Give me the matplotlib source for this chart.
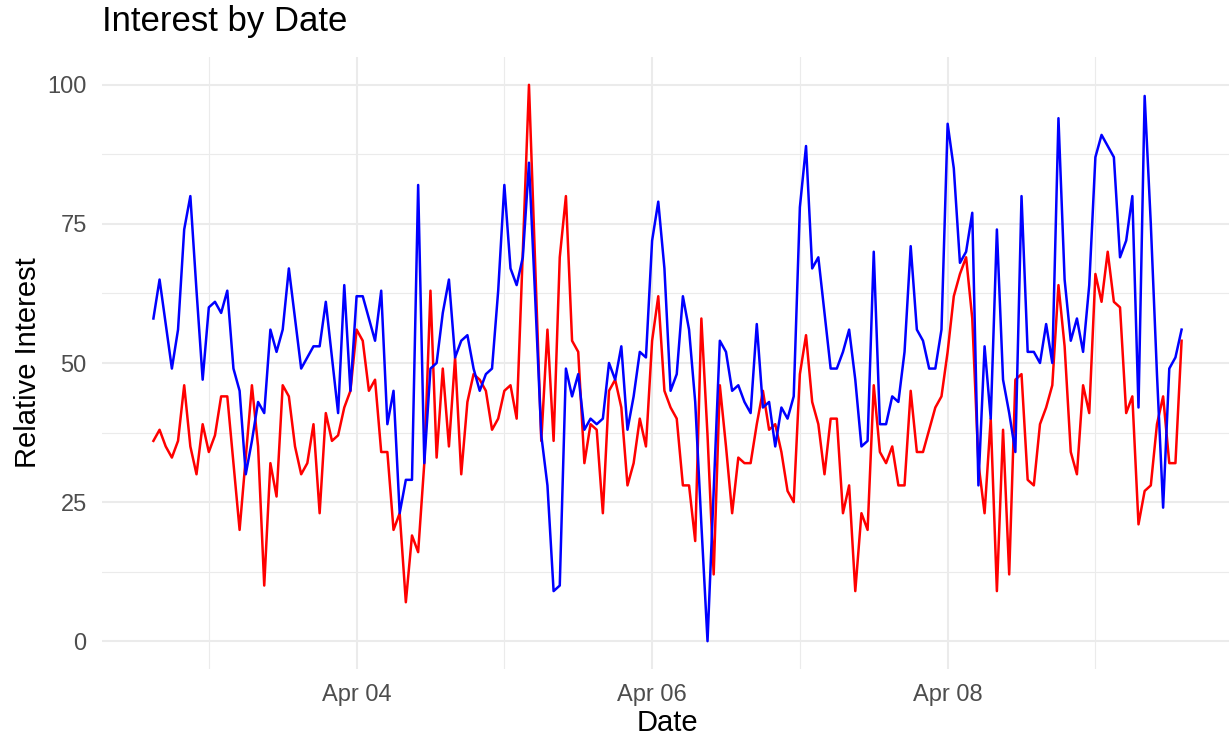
import matplotlib
matplotlib.use("Agg")
import matplotlib.pyplot as plt
import matplotlib.dates as mdates
import numpy as np
import pandas as pd

plt.rcParams['font.family'] = ['Liberation Sans', 'DejaVu Sans']

#%%
# hourly values, starting 15:00 on Apr 02
start = "2024-04-02 15:00"

blue_vals = [58, 65, 57, 49, 56, 74, 80, 63, 47, 60, 61, 59, 63, 49, 45, 30, 36, 43, 41, 56,
             52, 56, 67, 58, 49, 51, 53, 53, 61, 51, 41, 64, 45, 62, 62, 58, 54, 63, 39, 45,
             23, 29, 29, 82, 32, 49, 50, 59, 65, 51, 54, 55, 49, 45, 48, 49, 63, 82, 67, 64,
             69, 86, 62, 37, 28, 9, 10, 49, 44, 48, 38, 40, 39, 40, 50, 47, 53, 38, 44, 52,
             51, 72, 79, 67, 45, 48, 62, 56, 43, 21, 0, 27, 54, 52, 45, 46, 43, 41, 57, 42,
             43, 35, 42, 40, 44, 78, 89, 67, 69, 59, 49, 49, 52, 56, 47, 35, 36, 70, 39, 39,
             44, 43, 52, 71, 56, 54, 49, 49, 56, 93, 85, 68, 70, 77, 28, 53, 40, 74, 47, 41,
             34, 80, 52, 52, 50, 57, 50, 94, 65, 54, 58, 52, 64, 87, 91, 89, 87, 69, 72, 80,
             42, 98, 75, 48, 24, 49, 51, 56]

red_vals = [36, 38, 35, 33, 36, 46, 35, 30, 39, 34, 37, 44, 44, 32, 20, 33, 46, 35, 10, 32,
            26, 46, 44, 35, 30, 32, 39, 23, 41, 36, 37, 42, 45, 56, 54, 45, 47, 34, 34, 20,
            23, 7, 19, 16, 32, 63, 33, 49, 35, 51, 30, 43, 48, 47, 45, 38, 40, 45, 46, 40,
            70, 100, 68, 36, 56, 36, 69, 80, 54, 52, 32, 39, 38, 23, 45, 47, 42, 28, 32, 40,
            35, 54, 62, 45, 42, 40, 28, 28, 18, 58, 37, 12, 46, 35, 23, 33, 32, 32, 39, 45,
            38, 39, 34, 27, 25, 48, 55, 43, 39, 30, 40, 40, 23, 28, 9, 23, 20, 46, 34, 32,
            35, 28, 28, 45, 34, 34, 38, 42, 44, 52, 62, 66, 69, 58, 32, 23, 40, 9, 38, 12,
            47, 48, 29, 28, 39, 42, 46, 64, 53, 34, 30, 46, 41, 66, 61, 70, 61, 60, 41, 44,
            21, 27, 28, 39, 44, 32, 32, 54]

dates = pd.date_range(start, periods=len(blue_vals), freq="h")

#%%
W, H = 1229, 740
fig = plt.figure(figsize=(W / 100, H / 100), dpi=100)

# panel placed like the ggplot original (5% expansion on both axes)
ax = fig.add_axes([102 / W, (H - 669) / H, 1131 / W, 612 / H])

ax.plot(dates, red_vals, color='red', lw=1.8)
ax.plot(dates, blue_vals, color='blue', lw=1.8)

span = dates[-1] - dates[0]
ax.set_xlim(dates[0] - span * 0.05, dates[-1] + span * 0.05)
ax.set_ylim(-5, 105)

ax.xaxis.set_major_locator(mdates.DayLocator(bymonthday=[4, 6, 8]))
ax.xaxis.set_minor_locator(mdates.DayLocator(bymonthday=[3, 5, 7, 9]))
ax.xaxis.set_major_formatter(mdates.DateFormatter('%b %d'))
ax.set_yticks([0, 25, 50, 75, 100])
ax.set_yticks([12.5, 37.5, 62.5, 87.5], minor=True)

for s in ax.spines.values():
    s.set_visible(False)
ax.grid(which='major', color='#EBEBEB', lw=1.5)
ax.grid(which='minor', color='#EBEBEB', lw=0.8)
ax.set_axisbelow(True)
ax.tick_params(which='both', length=0)
ax.tick_params(axis='x', labelsize=17, labelcolor='#4D4D4D', pad=11)
ax.tick_params(axis='y', labelsize=17, labelcolor='#4D4D4D', pad=11)

ax.set_xlabel('Date', fontsize=21, labelpad=2)
ax.set_ylabel('Relative Interest', fontsize=21, labelpad=4)

fig.text(102 / W, 1 - 22 / H, 'Interest by Date', fontsize=25, ha='left', va='center')

fig.savefig('out.png', dpi=100)
